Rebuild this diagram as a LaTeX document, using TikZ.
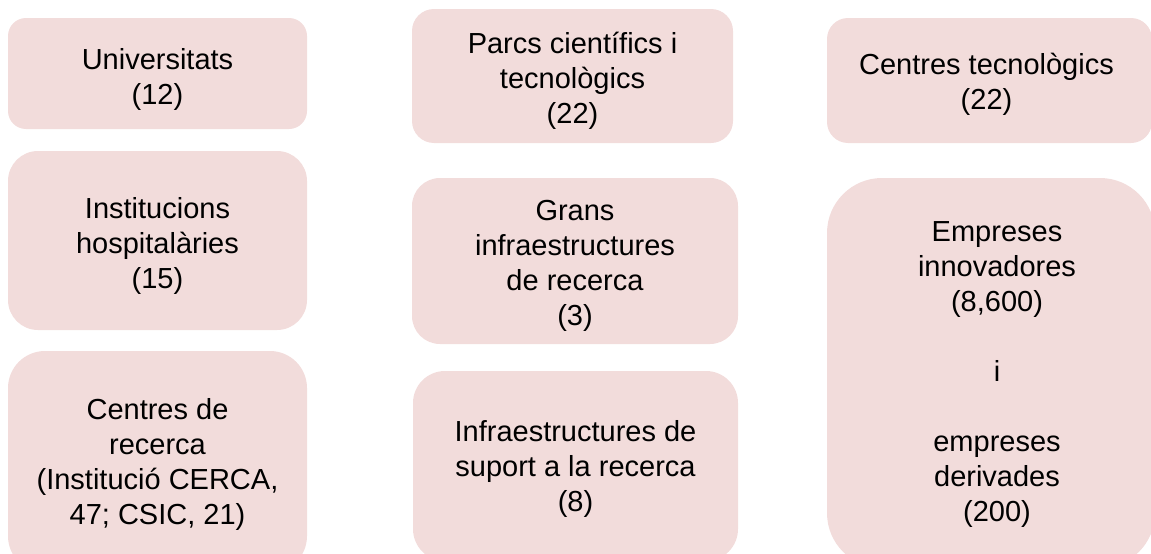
\documentclass[tikz,border=0pt]{standalone}
\usepackage{fontspec}
\setmainfont{Liberation Sans}
\definecolor{boxpink}{HTML}{F2DCDB}
\tikzset{
  pbox/.style={fill=boxpink, draw=none, inner sep=0pt},
  ptext/.style={inner sep=0pt, align=center,
    font=\fontsize{29}{35}\selectfont, text=black},
}
\begin{document}
\begin{tikzpicture}[x=1pt,y=-1pt]
\useasboundingbox (0,0) rectangle (1151,554);
\clip (0,0) rectangle (1151,554);
% left column
\node[pbox, minimum width=299pt, minimum height=111pt, rounded corners=18pt] (uni) at (157.5,73.5) {};
\node[ptext] (unit) at ([yshift=-6pt]uni.center) {Universitats\\(12)};
\node[pbox, minimum width=299pt, minimum height=179pt, rounded corners=30pt] (hosp) at (157.5,240.5) {};
\node[ptext] (hospt) at ([yshift=-5pt]hosp.center) {Institucions\\hospitalàries\\(15)};
\node[pbox, minimum width=299pt, minimum height=222pt, rounded corners=37pt] (cent) at (157.5,462) {};
\node[ptext] (centt) at ([yshift=-2pt]cent.center) {Centres de\\recerca\\(Institució CERCA,\\47; CSIC, 21)};
% middle column
\node[pbox, minimum width=321pt, minimum height=134pt, rounded corners=22pt] (parcs) at (572.5,76) {};
\node[ptext] (parcst) at ([yshift=-5pt]parcs.center) {Parcs científics i\\tecnològics\\(22)};
\node[pbox, minimum width=326pt, minimum height=166pt, rounded corners=28pt] (grans) at (575,261) {};
\node[ptext] (granst) at ([yshift=-5pt]grans.center) {Grans\\infraestructures\\de recerca\\(3)};
\node[pbox, minimum width=325pt, minimum height=190pt, rounded corners=32pt] (infra) at (575.5,466) {};
\node[ptext] (infrat) at ([yshift=-3pt]infra.center) {Infraestructures de\\suport a la recerca\\(8)};
% right column
\node[pbox, minimum width=325pt, minimum height=125pt, rounded corners=21pt] (ctec) at (989.5,80.5) {};
\node[ptext] (ctect) at ([xshift=-3pt,yshift=-4pt]ctec.center) {Centres tecnològics\\(22)};
\node[pbox, minimum width=328pt, minimum height=390pt, rounded corners=55pt] (emp) at (991,373) {};
\node[ptext] (empt) at ([xshift=6pt,yshift=-2pt]emp.center) {Empreses\\innovadores\\(8,600)\\[35pt]i\\[35pt]empreses\\derivades\\(200)};
\end{tikzpicture}
\end{document}
